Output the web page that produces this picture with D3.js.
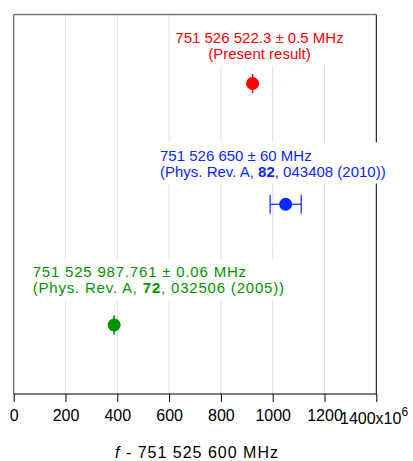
<!DOCTYPE html>
<html>
<head>
<meta charset="utf-8">
<script src="https://cdn.jsdelivr.net/npm/d3@7"></script>
<style>
  body { margin: 0; background: #fff; }
  svg text { font-family: "Liberation Sans", Arial, Helvetica, sans-serif; }
</style>
</head>
<body>
<script>
// values are f - 751 525 600 MHz (axis in units of 10^6)
const names = ["present", "prA82", "prA72"];
const freqs = [922.3, 1050, 387.761];
const errs = [0.5, 60, 0.06];
const rows = [9, 5.5, 2];
const colors = ["#ff0000", "#0a28ff", "#009400"];
const line1 = ["751 526 522.3 \u00b1 0.5 MHz", "751 526 650 \u00b1 60 MHz", "751 525 987.761 \u00b1 0.06 MHz"];
const line2 = [["(Present result)"], ["(Phys. Rev. A, ", "82", ", 043408 (2010))"], ["(Phys. Rev. A, ", "72", ", 032506 (2005))"]];
const xTicks = [0, 200, 400, 600, 800, 1000, 1200, 1400];

// where each annotation sits (anchor x, first baseline)
const notePos = [
  {x: 259.5, y: 42.5, anchor: "middle", padTop: 30, spacing: 0},
  {x: 160, y: 160.5, anchor: "start", padTop: 4, spacing: 0},
  {x: 32.7, y: 277, anchor: "start", padTop: 4, spacing: 0.8}
];

const W = 413, H = 461;
const m = {left: 13.7, right: 376.3, top: 14.5, bottom: 394};

const svg = d3.select("body").append("svg")
  .attr("width", W).attr("height", H);

const x = d3.scaleLinear().domain([0, 1400]).range([m.left, m.right]);
const y = d3.scaleLinear().domain([0, 11]).range([m.bottom, m.top]);

// dotted grid
svg.append("g")
  .selectAll("line")
  .data(xTicks.slice(1, -1))
  .enter().append("line")
    .attr("x1", d => x(d)).attr("x2", d => x(d))
    .attr("y1", m.top).attr("y2", m.bottom)
    .attr("stroke", "#bcbcf0")
    .attr("stroke-width", 1)
    .attr("stroke-dasharray", "1,1");

// right border sits under the note boxes
svg.append("line").attr("x1", m.right).attr("x2", m.right).attr("y1", m.top).attr("y2", m.bottom)
  .attr("stroke", "#000").attr("stroke-width", 1);

// annotations with white backing
names.forEach((n, i) => {
  const p = notePos[i];
  const g = svg.append("g").attr("class", "note " + n);
  const bg = g.append("rect").attr("fill", "#fff");
  const t = g.append("text")
    .attr("text-anchor", p.anchor)
    .attr("fill", colors[i])
    .style("letter-spacing", p.spacing + "px")
    .style("font-size", "15px");
  t.append("tspan").attr("x", p.x).attr("y", p.y).text(line1[i]);
  const l2 = t.append("tspan").attr("x", p.x).attr("y", p.y + 16);
  line2[i].forEach((s, k) => {
    l2.append("tspan").style("font-weight", k === 1 ? "bold" : null).text(s);
  });
  const b = t.node().getBBox();
  const top = Math.max(m.top, b.y - p.padTop);
  bg.attr("x", b.x - 4).attr("y", top)
    .attr("width", b.width + 8).attr("height", b.y + b.height + 4 - top);
});

// top and left frame
svg.append("line").attr("x1", m.left).attr("x2", m.right).attr("y1", m.top).attr("y2", m.top)
  .attr("stroke", "#7a7a7a").attr("stroke-width", 1.5);
svg.append("line").attr("x1", m.left).attr("x2", m.left).attr("y1", m.top).attr("y2", m.bottom)
  .attr("stroke", "#7a7a7a").attr("stroke-width", 1.5);

// bottom axis
const xAxis = d3.axisBottom(x).tickValues(xTicks).tickSize(8).tickFormat(d => d === 1400 ? "" : d);
const ax = svg.append("g")
  .attr("transform", `translate(0,${m.bottom})`)
  .call(xAxis);
ax.select(".domain").attr("stroke", "#000").attr("d", `M${m.left},0H${m.right}`);
ax.selectAll(".tick line").attr("stroke", "#000");
ax.selectAll(".tick text")
  .attr("y", 27).attr("dy", 0)
  .attr("fill", "#000")
  .style("font-size", "16px")
  .style("font-family", "'Liberation Sans', Arial, sans-serif");

const last = svg.append("text")
  .attr("x", 340).attr("y", 423.5)
  .style("font-size", "16px")
  .attr("fill", "#000")
  .text("1400x10");
last.append("tspan").attr("dy", -8).style("font-size", "12px").text("6");

// axis title
const title = svg.append("text")
  .attr("x", 197).attr("y", 457.5)
  .attr("text-anchor", "middle")
  .style("font-size", "16px")
  .style("letter-spacing", "1px")
  .attr("fill", "#000");
title.append("tspan").style("font-style", "italic").text("f");
title.append("tspan").text(" - 751 525 600 MHz");

// error bars + points
const pts = svg.append("g").selectAll("g")
  .data(freqs.map((f, i) => ({f, e: errs[i], r: rows[i], c: colors[i]})))
  .enter().append("g");

pts.append("line")
  .attr("x1", d => x(d.f - d.e)).attr("x2", d => x(d.f + d.e))
  .attr("y1", d => y(d.r)).attr("y2", d => y(d.r))
  .attr("stroke", d => d.c).attr("stroke-width", 1.2);
[-1, 1].forEach(s => {
  pts.append("line")
    .attr("x1", d => x(d.f + s * d.e)).attr("x2", d => x(d.f + s * d.e))
    .attr("y1", d => y(d.r) - 9.5).attr("y2", d => y(d.r) + 9.5)
    .attr("stroke", d => d.c).attr("stroke-width", 1.2);
});
pts.append("circle")
  .attr("cx", d => x(d.f)).attr("cy", d => y(d.r))
  .attr("r", 6.5)
  .attr("fill", d => d.c);
</script>
</body>
</html>
